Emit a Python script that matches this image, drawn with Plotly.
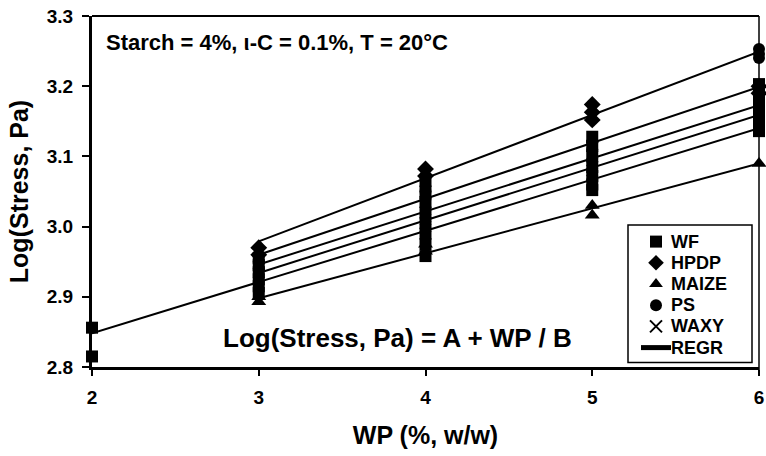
import plotly.graph_objects as go

# ---- data ----
wf_x = [2, 2, 3, 3, 3, 3, 3, 3,
        4, 4, 4, 4, 4, 4, 4, 4,
        5, 5, 5, 5, 5, 5, 5,
        6, 6, 6, 6, 6, 6, 6]
wf_y = [2.856, 2.815, 2.955, 2.945, 2.935, 2.925, 2.915, 2.905,
        3.065, 3.05, 3.035, 3.02, 3.005, 2.99, 2.975, 2.958,
        3.128, 3.115, 3.1, 3.085, 3.072, 3.06, 3.052,
        3.203, 3.19, 3.178, 3.165, 3.152, 3.142, 3.136]
hpdp_x = [3, 3, 4, 4, 5, 5, 5, 6, 6]
hpdp_y = [2.97, 2.96, 3.082, 3.072, 3.174, 3.163, 3.152, 3.2, 3.19]
maize_x = [3, 3, 4, 4, 5, 5, 6]
maize_y = [2.9, 2.893, 2.975, 2.965, 3.03, 3.016, 3.09]
ps_x = [3, 3, 4, 4, 5, 5, 6, 6, 6]
ps_y = [2.95, 2.94, 3.05, 3.04, 3.12, 3.11, 3.253, 3.246, 3.24]
waxy_x = [3, 3, 4, 4, 5, 5, 6, 6]
waxy_y = [2.93, 2.92, 3.01, 3.0, 3.09, 3.08, 3.16, 3.15]

# regression lines: start/end WP and fitted log(stress)
regr_x0 = [3, 3, 3, 3, 2, 3]
regr_x1 = [6, 6, 6, 6, 6, 6]
regr_y0 = [2.979, 2.960, 2.946, 2.934, 2.848, 2.898]
regr_y1 = [3.249, 3.199, 3.173, 3.159, 3.140, 3.090]

x_ticks = [2, 3, 4, 5, 6]
y_ticks = [2.8, 2.9, 3.0, 3.1, 3.2, 3.3]
legend_labels = ["WF", "HPDP", "MAIZE", "PS", "WAXY", "REGR"]

FONT = "Arial, Liberation Sans, sans-serif"

# plot-area pixel geometry (for converting legend positions)
W, H = 766, 456
ML, MR, MT, MB = 92, 7, 16, 89
PW, PH = W - ML - MR, H - MT - MB


def px_x(p):
    return (p - ML) / PW


def px_y(p):
    return (H - MB - p) / PH


fig = go.Figure()


def mk(xs, ys, symbol, size, lw=0):
    fig.add_trace(go.Scatter(
        x=xs, y=ys, mode="markers", name="", cliponaxis=False,
        marker=dict(symbol=symbol, size=size, color="black",
                    line=dict(width=lw, color="black"))))


mk(wf_x, wf_y, "square", 12)
mk(hpdp_x, hpdp_y, "diamond", 13)
mk(maize_x, maize_y, "triangle-up", 13)
mk(ps_x, ps_y, "circle", 12)
mk(waxy_x, waxy_y, "x-thin", 11, lw=1.5)

lx, ly = [], []
for a, b, c, d in zip(regr_x0, regr_x1, regr_y0, regr_y1):
    lx += [a, b, None]
    ly += [c, d, None]
fig.add_trace(go.Scatter(x=lx, y=ly, mode="lines", name="",
                         line=dict(color="black", width=2)))

# legend frame and labels
LEG_FONT = 14                      # controls row pitch of the native legend
row_step = LEG_FONT * 1.3 + 3
box_l, box_r, box_t = 628, 752, 225
row0 = box_t + 16.5
box_b = row0 + 5 * row_step + 15
annotations = [
    dict(text="Starch = 4%, \u03b9-C = 0.1%, T = 20\u00b0C", xref="paper", yref="paper",
         x=px_x(104), y=px_y(43), xanchor="left", yanchor="middle", showarrow=False,
         font=dict(size=22, weight="bold")),
    dict(text="Log(Stress, Pa) = A + WP / B", xref="paper", yref="paper",
         x=px_x(221), y=px_y(338), xanchor="left", yanchor="middle", showarrow=False,
         font=dict(size=26, weight="bold")),
]
for i, lab in enumerate(legend_labels):
    annotations.append(dict(text=lab, xref="paper", yref="paper",
                            x=px_x(670), y=px_y(row0 + i * row_step),
                            xanchor="left", yanchor="middle", showarrow=False,
                            borderpad=0, font=dict(size=18, weight="bold")))

fig.update_layout(
    width=W, height=H,
    margin=dict(l=ML, r=MR, t=MT, b=MB),
    paper_bgcolor="white", plot_bgcolor="white",
    font=dict(family=FONT, size=19, color="black", weight="bold"),
    showlegend=True,
    legend=dict(x=px_x(636), y=px_y(box_t + 1), xanchor="left", yanchor="top",
                borderwidth=0, bgcolor="rgba(0,0,0,0)",
                font=dict(size=LEG_FONT), tracegroupgap=0, itemsizing="constant"),
    xaxis=dict(range=[2, 6], tickvals=x_ticks, ticktext=[str(v) for v in x_ticks],
               showline=True, linecolor="black", linewidth=3, mirror=False,
               ticks="outside", ticklen=6, tickwidth=2, tickcolor="black",
               showgrid=False, zeroline=False, ticklabelstandoff=5, automargin=False,
               title=dict(text="WP (%, w/w)", font=dict(size=25, weight="bold"), standoff=20)),
    yaxis=dict(range=[2.8, 3.3], tickvals=y_ticks, ticktext=[f"{v:.1f}" for v in y_ticks],
               showline=True, linecolor="black", linewidth=3, mirror=False,
               ticks="outside", ticklen=7, tickwidth=2, tickcolor="black",
               showgrid=False, zeroline=False, ticklabelstandoff=5, automargin=False,
               title=dict(text="Log(Stress, Pa)", font=dict(size=25, weight="bold"), standoff=12)),
    shapes=[dict(type="line", xref="paper", yref="paper", x0=0, x1=1, y0=1, y1=1,
                 line=dict(color="black", width=2)),
            dict(type="line", xref="paper", yref="paper", x0=1, x1=1, y0=px_y(373), y1=1,
                 line=dict(color="black", width=1.5)),
            dict(type="rect", xref="paper", yref="paper", x0=px_x(box_l), x1=px_x(box_r),
                 y0=px_y(box_b), y1=px_y(box_t), fillcolor="white",
                 line=dict(color="black", width=1.5), layer="above")],
    annotations=annotations,
)

fig.write_html("out.html")
